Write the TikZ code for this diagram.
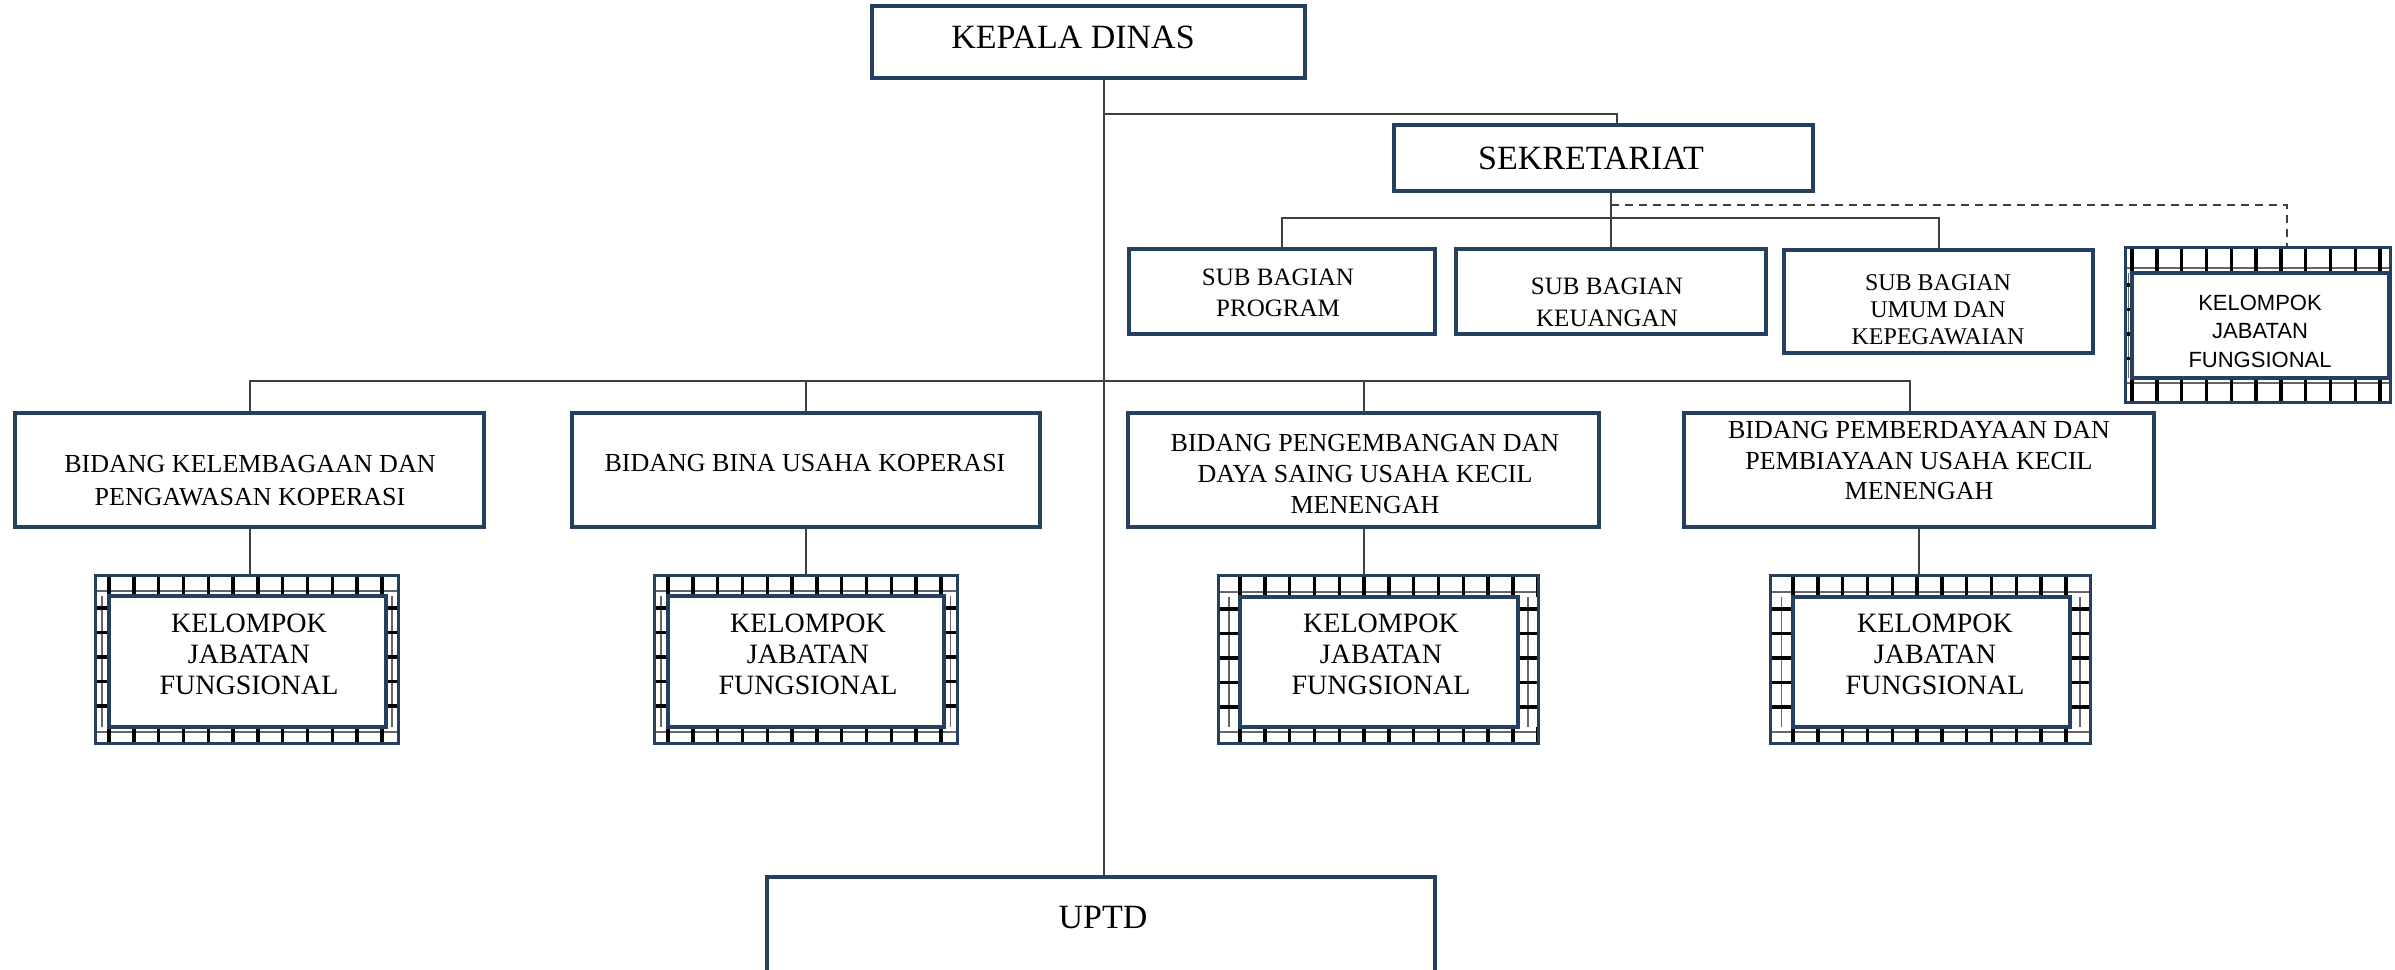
\documentclass[tikz,border=0pt]{standalone}
\usepackage{fontspec}
\setmainfont{Liberation Serif}
\newfontfamily\arialf{Liberation Sans}
\definecolor{navy}{HTML}{243F60}
\tikzset{
  box/.style={draw=navy, line width=3.5pt, inner sep=0pt, outer sep=0pt, fill=white},
  frm/.style={draw=navy, line width=3pt, inner sep=0pt, outer sep=0pt},
  conn/.style={draw=black!75, line width=2pt},
  dashconn/.style={conn, dash pattern=on 8pt off 6pt},
  lbl/.style={inner sep=0pt, align=center, text=black},
  tick/.style={black, line width=3.4pt},
  thinl/.style={black!60, line width=1.2pt},
}
% named box node from corner coordinates (x1,y1)-(x2,y2), y pointing down
\newcommand\mkbox[6]{\node[#6, minimum width={#4pt-#2pt}, minimum height={#5pt-#3pt}] (#1) at ({(#2+#4)/2},{(#3+#5)/2}) {};}
% film pattern: outer ox1 oy1 ox2 oy2, inner ix1 iy1 ix2 iy2
\newcommand\filmpat[8]{%
  \begin{scope}
    \clip (#1,#2) rectangle (#3,#6);
    \draw[thinl] (#1,{#6-5}) -- (#3,{#6-5});
    \foreach \i in {0,...,16} \draw[tick] ({#5+\i*24.8},#2) -- ({#5+\i*24.8},#6);
  \end{scope}
  \begin{scope}
    \clip (#1,#8) rectangle (#3,#4);
    \draw[thinl] (#1,{#8+5}) -- (#3,{#8+5});
    \foreach \i in {0,...,16} \draw[tick] ({#5+\i*24.8},#8) -- ({#5+\i*24.8},#4);
  \end{scope}
  \begin{scope}
    \clip (#1,#6) rectangle (#5,#8);
    \draw[thinl] ({(#1+#5)/2},#6) -- ({(#1+#5)/2},#8);
    \foreach \i in {0,...,8} \draw[tick] (#1,{#6+12+\i*24.5}) -- (#5,{#6+12+\i*24.5});
  \end{scope}
  \begin{scope}
    \clip (#7,#6) rectangle (#3,#8);
    \draw[thinl] ({(#7+#3)/2},#6) -- ({(#7+#3)/2},#8);
    \foreach \i in {0,...,8} \draw[tick] (#7,{#6+12+\i*24.5}) -- (#3,{#6+12+\i*24.5});
  \end{scope}
}
\begin{document}
\begin{tikzpicture}[x=1pt, y=-1pt]
\useasboundingbox (0,0) rectangle (2395,969);
\fill[white] (0,0) rectangle (2395,969);

% main boxes
\mkbox{kd}{872}{6}{1305}{78}{box}
\node[lbl, font=\fontsize{34}{40}\selectfont] (kdt) at (1073,37) {KEPALA DINAS};
\mkbox{sek}{1394}{125}{1813}{191}{box}
\node[lbl, font=\fontsize{34}{40}\selectfont] (sekt) at (1591,158) {SEKRETARIAT};

\mkbox{prog}{1129}{249}{1435}{334}{box}
\node[lbl, font=\fontsize{25}{31}\selectfont] (progt) at (1278,293) {SUB BAGIAN\\PROGRAM};
\mkbox{keu}{1456}{249}{1766}{334}{box}
\node[lbl, font=\fontsize{25}{32}\selectfont] (keut) at (1607,302) {SUB BAGIAN\\KEUANGAN};
\mkbox{umum}{1784}{250}{2093}{353}{box}
\node[lbl, font=\fontsize{24}{27}\selectfont] (umumt) at (1938,310) {SUB BAGIAN\\UMUM DAN\\KEPEGAWAIAN};

% kelompok (sekretariat)
\filmpat{2125}{247}{2390}{402}{2132}{273}{2389}{378}
\mkbox{kjo}{2125}{247}{2390}{402}{frm}
\mkbox{kji}{2132}{273}{2389}{378}{box}
\node[lbl, font=\arialf\fontsize{22}{28.5}\selectfont] (kjt) at (2260,331) {KELOMPOK\\JABATAN\\FUNGSIONAL};

% bidang
\mkbox{kel}{15}{413}{484}{527}{box}
\node[lbl, font=\fontsize{26}{33}\selectfont] (kelt) at (250,481) {BIDANG KELEMBAGAAN DAN\\PENGAWASAN KOPERASI};
\mkbox{bina}{572}{413}{1040}{527}{box}
\node[lbl, font=\fontsize{26}{33}\selectfont] (binat) at (805,463) {BIDANG BINA USAHA KOPERASI};
\mkbox{peng}{1128}{413}{1599}{527}{box}
\node[lbl, font=\fontsize{26}{31}\selectfont] (pengt) at (1365,474) {BIDANG PENGEMBANGAN DAN\\DAYA SAING USAHA KECIL\\MENENGAH};
\mkbox{pem}{1684}{413}{2154}{527}{box}
\node[lbl, font=\fontsize{26}{30.5}\selectfont] (pemt) at (1919,461) {BIDANG PEMBERDAYAAN DAN\\PEMBIAYAAN USAHA KECIL\\MENENGAH};

% kelompok boxes under bidang
\filmpat{95}{575}{398}{743}{109}{596}{386}{727}
\mkbox{ka}{95}{575}{398}{743}{frm}
\mkbox{kai}{109}{596}{386}{727}{box}
\node[lbl, font=\fontsize{28}{31}\selectfont] (kat) at (249,654) {KELOMPOK\\JABATAN\\FUNGSIONAL};

\filmpat{654}{575}{957}{743}{668}{596}{944}{727}
\mkbox{kb}{654}{575}{957}{743}{frm}
\mkbox{kbi}{668}{596}{944}{727}{box}
\node[lbl, font=\fontsize{28}{31}\selectfont] (kbt) at (808,654) {KELOMPOK\\JABATAN\\FUNGSIONAL};

\filmpat{1218}{575}{1538}{743}{1240}{597}{1518}{727}
\mkbox{kc}{1218}{575}{1538}{743}{frm}
\mkbox{kci}{1240}{597}{1518}{727}{box}
\node[lbl, font=\fontsize{28}{31}\selectfont] (kct) at (1381,654) {KELOMPOK\\JABATAN\\FUNGSIONAL};

\filmpat{1770}{575}{2090}{743}{1793}{597}{2070}{727}
\mkbox{kd2}{1770}{575}{2090}{743}{frm}
\mkbox{kdi}{1793}{597}{2070}{727}{box}
\node[lbl, font=\fontsize{28}{31}\selectfont] (kdt2) at (1935,654) {KELOMPOK\\JABATAN\\FUNGSIONAL};

% UPTD
\mkbox{uptd}{767}{877}{1435}{1010}{box}
\node[lbl, font=\fontsize{34}{40}\selectfont] (uptdt) at (1103,918) {UPTD};

% connectors
\coordinate (spine) at (1104,0);
\draw[conn] (kd.south -| spine) -- (uptd.north -| spine);
\draw[conn] (spine |- 0,114) -| ([xshift=13pt]sek.north);
\draw[conn] (sek.south -| keu.north) -- (keu.north);
\draw[conn] (prog.north) -- ++(0,-31) -| (umum.north);
\draw[dashconn] (keu.north |- 0,205) -| ([xshift=29.5pt]kjo.north);
\draw[conn] (kel.north) -- ++(0,-32) -| ([xshift=-9pt]pem.north);
\draw[conn] (bina.north) -- (bina.north |- 0,381);
\draw[conn] (peng.north) -- (peng.north |- 0,381);
\draw[conn] (kel.south) -- (kel.south |- ka.north);
\draw[conn] (bina.south) -- (bina.south |- kb.north);
\draw[conn] (peng.south) -- (peng.south |- kc.north);
\draw[conn] (pem.south) -- (pem.south |- kd2.north);
\end{tikzpicture}
\end{document}
